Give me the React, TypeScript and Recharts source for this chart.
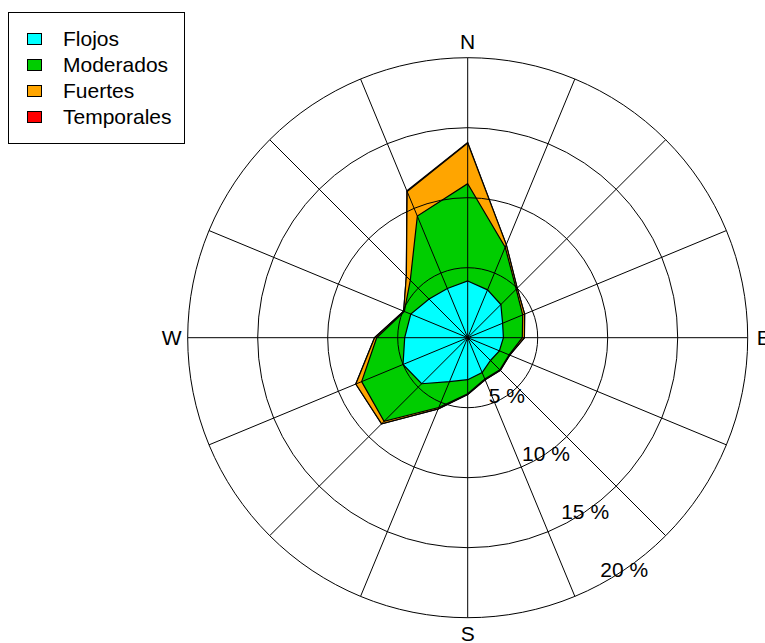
import { Legend, PolarAngleAxis, PolarGrid, PolarRadiusAxis, Radar, RadarChart } from 'recharts'

const directions = ['N', 'NNE', 'NE', 'ENE', 'E', 'ESE', 'SE', 'SSE', 'S', 'SSW', 'SW', 'WSW', 'W', 'WNW', 'NW', 'NNW']
const cardinals = ['N', 'E', 'S', 'W']

// percentage of observations by speed class, per direction
const flojos = [4.05, 3.7, 3.35, 2.7, 2.55, 2.45, 2.3, 2.7, 3.0, 3.4, 4.65, 5.0, 4.5, 4.4, 3.9, 3.8]
const moderados = [6.95, 3.3, 1.55, 1.55, 1.35, 0.75, 0.95, 0.5, 1.0, 2.0, 3.8, 3.2, 2.0, 0.5, 1.9, 5.6]
const fuertes = [2.9, 0.2, 0.1, 0.15, 0.15, 0.05, 0.05, 0.05, 0.05, 0.1, 0.25, 0.45, 0.15, 0.05, 0.4, 1.9]
const temporales = [0.05, 0, 0, 0, 0, 0, 0, 0, 0, 0, 0, 0, 0, 0, 0, 0.05]

const classNames = ['Flojos', 'Moderados', 'Fuertes', 'Temporales']
const classColors = ['#00ffff', '#00cd00', '#ffa500', '#ff0000']

// the rose is drawn stacked: each polygon is the running total
const chartData = directions.map((dir, i) => {
  const a = flojos[i]
  const b = a + moderados[i]
  const c = b + fuertes[i]
  const d = c + temporales[i]
  return { dir, Flojos: a, Moderados: b, Fuertes: c, Temporales: d }
})

const CX = 467.7
const CY = 337.7
const R = 280
const font = '"Liberation Sans", Arial, sans-serif'
const FS = 21

function AngleTick(props: any) {
  const label = props.payload.value
  if (!cardinals.includes(label)) return <g />
  const ang = (props.payload.coordinate * Math.PI) / 180
  const x = CX + Math.cos(ang) * (R + 16)
  const y = CY - Math.sin(ang) * (R + 16)
  return (
    <text x={x} y={y} textAnchor="middle" dominantBaseline="central" fontSize={FS} fontFamily={font} fill="#000">
      {label}
    </text>
  )
}

function RadiusTick(props: any) {
  const v = props.payload.value
  if (v === 0) return <g />
  return (
    <text x={props.x} y={props.y} textAnchor="middle" dominantBaseline="central" fontSize={FS} fontFamily={font} fill="#000">
      {`${v} %`}
    </text>
  )
}

function LegendBox() {
  return (
    <div
      style={{
        border: '1px solid #000',
        background: '#fff',
        width: 177,
        boxSizing: 'border-box',
        padding: '13px 0 13px 18px',
        fontFamily: font,
        fontSize: FS,
        color: '#000',
      }}
    >
      {classNames.map((name, i) => (
        <div key={name} style={{ height: 26, lineHeight: '26px', display: 'flex', alignItems: 'center' }}>
          <span
            style={{
              display: 'inline-block',
              width: 15,
              height: 12,
              boxSizing: 'border-box',
              border: '1px solid #000',
              background: classColors[i],
              marginRight: 21,
            }}
          />
          {name}
        </div>
      ))}
    </div>
  )
}

const chartProps = {
  width: 800,
  height: 643,
  data: chartData,
  cx: CX,
  cy: CY,
  outerRadius: R,
  startAngle: 90,
  endAngle: -270,
  margin: { top: 0, right: 0, bottom: 0, left: 0 },
}

export default function App() {
  const order = [3, 2, 1, 0]
  return (
    <div style={{ position: 'absolute', left: 0, top: 0, width: 765, height: 643, overflow: 'hidden', background: '#fff' }}>
      {/* filled rose */}
      <div style={{ position: 'absolute', left: 0, top: 0 }}>
        <RadarChart {...chartProps}>
          <PolarAngleAxis dataKey="dir" axisLine={false} tickLine={false} tick={false} />
          <PolarRadiusAxis domain={[0, 20]} tickCount={5} axisLine={false} tickLine={false} tick={false} />
          {order.map((k) => (
            <Radar
              key={classNames[k]}
              name={classNames[k]}
              dataKey={classNames[k]}
              stroke="#000"
              strokeWidth={1.2}
              fill={classColors[k]}
              fillOpacity={1}
              isAnimationActive={false}
            />
          ))}
          <Legend
            layout="vertical"
            align="center"
            verticalAlign="middle"
            wrapperStyle={{ left: 8, top: 12, width: 'auto' }}
            content={() => <LegendBox />}
          />
        </RadarChart>
      </div>
      {/* grid and labels drawn over the fills */}
      <div style={{ position: 'absolute', left: 0, top: 0, pointerEvents: 'none' }}>
        <RadarChart {...chartProps}>
          <PolarGrid gridType="circle" stroke="#000" strokeOpacity={1} strokeWidth={1} />
          <PolarAngleAxis dataKey="dir" axisLine={false} tickLine={false} tick={<AngleTick />} />
          <PolarRadiusAxis
            angle={-56}
            domain={[0, 20]}
            tickCount={5}
            axisLine={false}
            tickLine={false}
            tick={<RadiusTick />}
          />
          <Radar dataKey="Temporales" stroke="none" fill="none" isAnimationActive={false} legendType="none" />
        </RadarChart>
      </div>
    </div>
  )
}
